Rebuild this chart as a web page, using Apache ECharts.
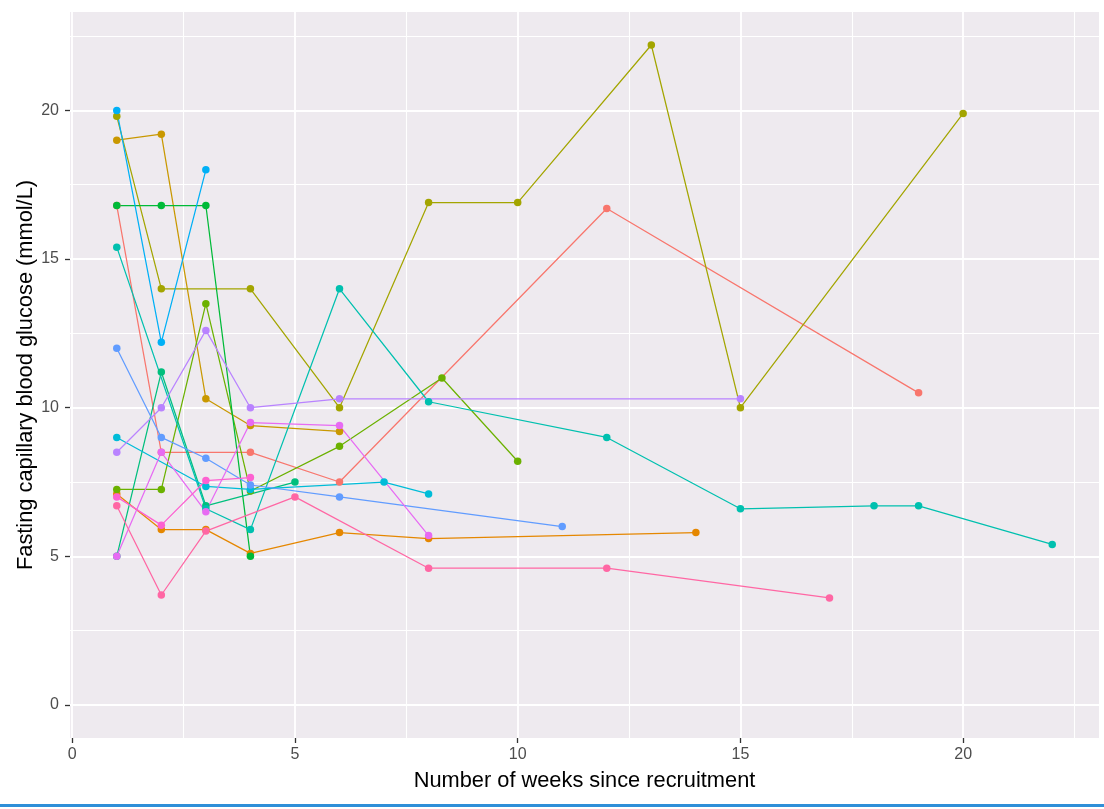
<!DOCTYPE html>
<html>
<head>
<meta charset="utf-8">
<script src="https://cdn.jsdelivr.net/npm/echarts@6/dist/echarts.min.js"></script>
<style>
html,body{margin:0;padding:0;background:#ffffff;}
#chart{width:1104px;height:809px;}
</style>
</head>
<body>
<div id="chart"></div>
<script>
// ---- tick labels / gridline positions ----
const xTickLabels = [0, 5, 10, 15, 20];
const yTickLabels = [0, 5, 10, 15, 20];
const xMinorGrid = [2.5, 7.5, 12.5, 17.5, 22.5];
const yMinorGrid = [2.5, 7.5, 12.5, 17.5, 22.5];

// ---- ggplot default hue palette (15 groups) ----
const palette = ['#F8766D','#E58700','#C99800','#A3A500','#6BB100','#00BA38','#00BF7D','#00C0AF',
                 '#00BCD8','#00B0F6','#619CFF','#B983FF','#E76BF3','#FD61D1','#FF67A4'];

// ---- data: weeks since recruitment and fasting glucose per participant ----
const weeksP01 = [1, 2, 4, 6, 12, 19];
const glucoseP01 = [16.8, 8.5, 8.5, 7.5, 16.7, 10.5];
const weeksP02 = [1, 2, 3, 4, 6, 8, 14];
const glucoseP02 = [7.1, 5.9, 5.9, 5.1, 5.8, 5.6, 5.8];
const weeksP03 = [1, 2, 3, 4, 6];
const glucoseP03 = [19.0, 19.2, 10.3, 9.4, 9.2];
const weeksP04 = [1, 2, 4, 6, 8, 10, 13, 15, 20];
const glucoseP04 = [19.8, 14.0, 14.0, 10.0, 16.9, 16.9, 22.2, 10.0, 19.9];
const weeksP05 = [1, 2, 3, 4, 6, 8.3, 10];
const glucoseP05 = [7.25, 7.25, 13.5, 7.2, 8.7, 11.0, 8.2];
const weeksP06 = [1, 2, 3, 4];
const glucoseP06 = [16.8, 16.8, 16.8, 5.0];
const weeksP07 = [1, 2, 3, 5];
const glucoseP07 = [5.0, 11.2, 6.7, 7.5];
const weeksP08 = [1, 3, 4, 6, 8, 12, 15, 18, 19, 22];
const glucoseP08 = [15.4, 6.6, 5.9, 14.0, 10.2, 9.0, 6.6, 6.7, 6.7, 5.4];
const weeksP09 = [1, 3, 4, 7, 8];
const glucoseP09 = [9.0, 7.35, 7.25, 7.5, 7.1];
const weeksP10 = [1, 2, 3];
const glucoseP10 = [20.0, 12.2, 18.0];
const weeksP11 = [1, 2, 3, 4, 6, 11];
const glucoseP11 = [12.0, 9.0, 8.3, 7.4, 7.0, 6.0];
const weeksP12 = [1, 2, 3, 4, 6, 15];
const glucoseP12 = [8.5, 10.0, 12.6, 10.0, 10.3, 10.3];
const weeksP13 = [1, 2, 3, 4, 6, 8];
const glucoseP13 = [5.0, 8.5, 6.5, 9.5, 9.4, 5.7];
const weeksP14 = [1, 2, 3, 4];
const glucoseP14 = [7.0, 6.05, 7.55, 7.65];
const weeksP15 = [1, 2, 3, 5, 8, 12, 17];
const glucoseP15 = [6.7, 3.7, 5.85, 7.0, 4.6, 4.6, 3.6];

const participants = [
  [weeksP01, glucoseP01], [weeksP02, glucoseP02], [weeksP03, glucoseP03], [weeksP04, glucoseP04],
  [weeksP05, glucoseP05], [weeksP06, glucoseP06], [weeksP07, glucoseP07], [weeksP08, glucoseP08],
  [weeksP09, glucoseP09], [weeksP10, glucoseP10], [weeksP11, glucoseP11], [weeksP12, glucoseP12],
  [weeksP13, glucoseP13], [weeksP14, glucoseP14], [weeksP15, glucoseP15]
];

const FONT = '"Liberation Sans", Arial, sans-serif';

const chart = echarts.init(document.getElementById('chart'), null, {renderer: 'canvas'});

const gridLines = [];
xMinorGrid.forEach(v => gridLines.push({xAxis: v, lineStyle: {width: 1.1}}));
yMinorGrid.forEach(v => gridLines.push({yAxis: v, lineStyle: {width: 1.1}}));
xTickLabels.forEach(v => gridLines.push({xAxis: v, lineStyle: {width: 1.8}}));
yTickLabels.forEach(v => gridLines.push({yAxis: v, lineStyle: {width: 1.8}}));

const series = [{
  type: 'scatter',
  data: [],
  z: 1,
  silent: true,
  animation: false,
  markLine: {
    z: 1,
    silent: true,
    animation: false,
    symbol: ['none', 'none'],
    label: {show: false},
    emphasis: {disabled: true},
    lineStyle: {color: '#ffffff', type: 'solid', width: 1.5},
    data: gridLines
  }
}];

participants.forEach((p, i) => {
  series.push({
    type: 'line',
    data: p[0].map((w, j) => [w, p[1][j]]),
    showSymbol: false,
    symbol: 'none',
    silent: true,
    animation: false,
    z: 6,
    lineStyle: {color: palette[i], width: 1.25}
  });
});
participants.forEach((p, i) => {
  series.push({
    type: 'scatter',
    data: p[0].map((w, j) => [w, p[1][j]]),
    symbol: 'circle',
    symbolSize: 7.5,
    silent: true,
    animation: false,
    z: 7,
    itemStyle: {color: palette[i], opacity: 1}
  });
});

chart.setOption({
  animation: false,
  backgroundColor: '#ffffff',
  grid: {
    left: 70, right: 5, top: 12, bottom: 71,
    show: true, backgroundColor: '#EEEAEF', borderWidth: 0
  },
  xAxis: {
    type: 'value',
    min: -0.05, max: 23.05,
    axisLine: {show: false, onZero: false},
    splitLine: {show: false},
    axisTick: {show: true, customValues: xTickLabels, length: 5, lineStyle: {color: '#333333', width: 1.3}},
    axisLabel: {customValues: xTickLabels, color: '#4D4D4D', fontSize: 16, fontFamily: FONT, margin: 9},
    name: 'Number of weeks since recruitment',
    nameLocation: 'middle',
    nameGap: 32,
    nameTextStyle: {fontSize: 21.8, color: '#000000', fontFamily: FONT}
  },
  yAxis: {
    type: 'value',
    min: -1.11, max: 23.31,
    axisLine: {show: false, onZero: false},
    splitLine: {show: false},
    axisTick: {show: true, customValues: yTickLabels, length: 5, lineStyle: {color: '#333333', width: 1.3}},
    axisLabel: {customValues: yTickLabels, color: '#4D4D4D', fontSize: 16, fontFamily: FONT, margin: 11},
    name: 'Fasting capillary blood glucose (mmol/L)',
    nameLocation: 'middle',
    nameMoveOverlap: false,
    nameGap: 33,
    nameTextStyle: {fontSize: 21.8, color: '#000000', fontFamily: FONT}
  },
  graphic: [{
    type: 'rect', silent: true,
    shape: {x: 0, y: 804, width: 1104, height: 3},
    style: {fill: '#2F8FD8'}
  }],
  series: series
});
</script>
</body>
</html>
